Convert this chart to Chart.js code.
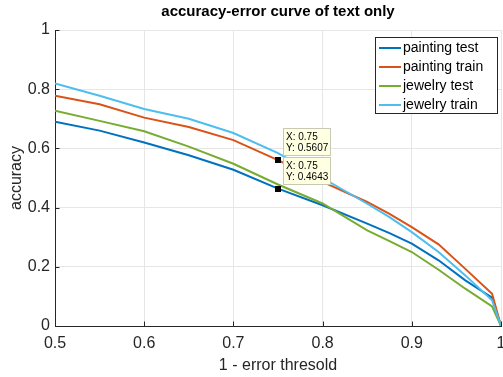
<!DOCTYPE html>
<html><head><meta charset="utf-8">
<script src="https://cdn.jsdelivr.net/npm/chart.js@4"></script>
<style>html,body{margin:0;padding:0;background:#fff;}canvas{display:block;}</style>
</head><body>
<canvas id="c" width="503" height="377"></canvas>
<script>
// ---- data ----
const thresholds    = [0.5,   0.55,  0.6,   0.65,  0.7,   0.75,   0.8,   0.85,  0.875, 0.9,   0.93,  0.96,  0.99,  1.0];
const paintingTest  = [0.690, 0.660, 0.620, 0.577, 0.528, 0.4643, 0.408, 0.346, 0.314, 0.278, 0.222, 0.154, 0.096, 0];
const paintingTrain = [0.778, 0.749, 0.704, 0.672, 0.628, 0.5607, 0.487, 0.419, 0.379, 0.334, 0.276, 0.193, 0.109, 0];
const jewelryTest   = [0.727, 0.693, 0.658, 0.606, 0.548, 0.478,  0.414, 0.323, 0.287, 0.250, 0.190, 0.126, 0.066, 0];
const jewelryTrain  = [0.819, 0.778, 0.733, 0.700, 0.652, 0.584,  0.500, 0.413, 0.368, 0.317, 0.250, 0.171, 0.087, 0];
const seriesNames   = ['painting test','painting train','jewelry test','jewelry train'];
const seriesValues  = [paintingTest, paintingTrain, jewelryTest, jewelryTrain];
const seriesColors  = ['#0072BD','#D95319','#77AC30','#4DBEEE'];
const xTicks = [0.5,0.6,0.7,0.8,0.9,1];
const yTicks = [0,0.2,0.4,0.6,0.8,1];
const titleText = 'accuracy-error curve of text only';
const xLabel = '1 - error thresold';
const yLabel = 'accuracy';
const tipX = 0.75;
const tipSeries = [1, 0]; // data tips on painting train and painting test

const FONT = '"Liberation Sans", Arial, Helvetica, sans-serif';
const AX = '#262626';

const datasets = seriesValues.map((vals, i) => ({
  label: seriesNames[i],
  data: thresholds.map((t, k) => ({x: t, y: vals[k]})),
  borderColor: seriesColors[i],
  backgroundColor: seriesColors[i],
  borderWidth: 2,
  pointRadius: 0,
  tension: 0,
  fill: false,
  order: seriesValues.length - i
}));

const matlabPlugin = {
  id: 'matlab',
  beforeDatasetsDraw(chart) {
    const {ctx, chartArea: a, scales: {x, y}} = chart;
    ctx.save();
    ctx.strokeStyle = AX; ctx.lineWidth = 1;
    xTicks.forEach(v => {
      const px = Math.round(x.getPixelForValue(v)) + 0.5;
      ctx.beginPath(); ctx.moveTo(px, a.bottom); ctx.lineTo(px, a.bottom - 4.5); ctx.stroke();
    });
    yTicks.forEach(v => {
      const py = Math.round(y.getPixelForValue(v)) + 0.5;
      ctx.beginPath(); ctx.moveTo(a.left, py); ctx.lineTo(a.left + 4.5, py); ctx.stroke();
    });
    ctx.restore();
  },
  afterDatasetsDraw(chart) {
    const {ctx, chartArea: a, scales: {x, y}} = chart;
    ctx.save();
    // title centred over the plot area
    ctx.fillStyle = '#000';
    ctx.font = 'bold 15px ' + FONT;
    ctx.textAlign = 'center'; ctx.textBaseline = 'middle';
    ctx.fillText(titleText, (a.left + a.right) / 2, 12);
    // data tips
    tipSeries.forEach(si => {
      const k = thresholds.indexOf(tipX);
      const val = seriesValues[si][k];
      const mx = x.getPixelForValue(tipX), my = y.getPixelForValue(val);
      const bx = Math.round(mx + 5) + 0.5, bw = 47, bh = 27;
      const by = Math.round(my - 5 - bh) + 0.5;
      ctx.fillStyle = '#ffffe1';
      ctx.strokeStyle = '#c8c8b4';
      ctx.lineWidth = 1;
      ctx.fillRect(bx, by, bw, bh);
      ctx.strokeRect(bx, by, bw, bh);
      ctx.fillStyle = '#000';
      ctx.font = '10px ' + FONT;
      ctx.textAlign = 'left'; ctx.textBaseline = 'middle';
      ctx.fillText('X: ' + tipX, bx + 2.5, by + 8.5);
      ctx.fillText('Y: ' + val.toFixed(4), bx + 2.5, by + 20);
      ctx.fillStyle = '#000';
      ctx.fillRect(Math.round(mx) - 3, Math.round(my) - 3, 6, 6);
    });
    // legend
    const lx = 375.5, ly = 37.5, lw = 122, lh = 76;
    ctx.fillStyle = '#fff';
    ctx.fillRect(lx, ly, lw, lh);
    ctx.strokeStyle = AX; ctx.lineWidth = 1;
    ctx.strokeRect(lx, ly, lw, lh);
    ctx.font = '14px ' + FONT;
    ctx.textAlign = 'left'; ctx.textBaseline = 'middle';
    seriesNames.forEach((n, i) => {
      const cy = 48 + i * 19;
      ctx.strokeStyle = seriesColors[i]; ctx.lineWidth = 2;
      ctx.beginPath(); ctx.moveTo(379, cy); ctx.lineTo(401, cy); ctx.stroke();
      ctx.fillStyle = '#000';
      ctx.fillText(n, 403, cy + 0.5);
    });
    ctx.restore();
  }
};

new Chart(document.getElementById('c'), {
  type: 'line',
  data: {datasets},
  plugins: [matlabPlugin],
  options: {
    responsive: false,
    animation: false,
    devicePixelRatio: 1,
    events: [],
    layout: {padding: {left: 0, right: 2, top: 30, bottom: 0}},
    plugins: {
      legend: {display: false},
      tooltip: {enabled: false},
      title: {display: false}
    },
    scales: {
      x: {
        type: 'linear', min: 0.5, max: 1,
        afterBuildTicks: s => { s.ticks = xTicks.map(v => ({value: v})); },
        afterFit: s => { s.height = 51; s.paddingLeft = 0; s.paddingRight = 0; },
        ticks: {color: AX, font: {family: FONT, size: 16}, padding: 8, maxRotation: 0, autoSkip: false,
                callback: v => String(v)},
        grid: {color: '#e6e6e6', drawTicks: false},
        border: {color: AX, width: 1},
        title: {display: true, text: xLabel, color: AX, font: {family: FONT, size: 16}, padding: {top: 0, bottom: 2}}
      },
      y: {
        type: 'linear', min: 0, max: 1,
        afterBuildTicks: s => { s.ticks = yTicks.map(v => ({value: v})); },
        afterFit: s => { s.width = 55; s.paddingTop = 0; s.paddingBottom = 0; },
        ticks: {color: AX, font: {family: FONT, size: 16}, padding: 5, callback: v => String(v)},
        grid: {color: '#e6e6e6', drawTicks: false},
        border: {color: AX, width: 1},
        title: {display: true, text: yLabel, color: AX, font: {family: FONT, size: 16}, padding: {top: 7, bottom: 0}}
      }
    }
  }
});
</script>
</body></html>
